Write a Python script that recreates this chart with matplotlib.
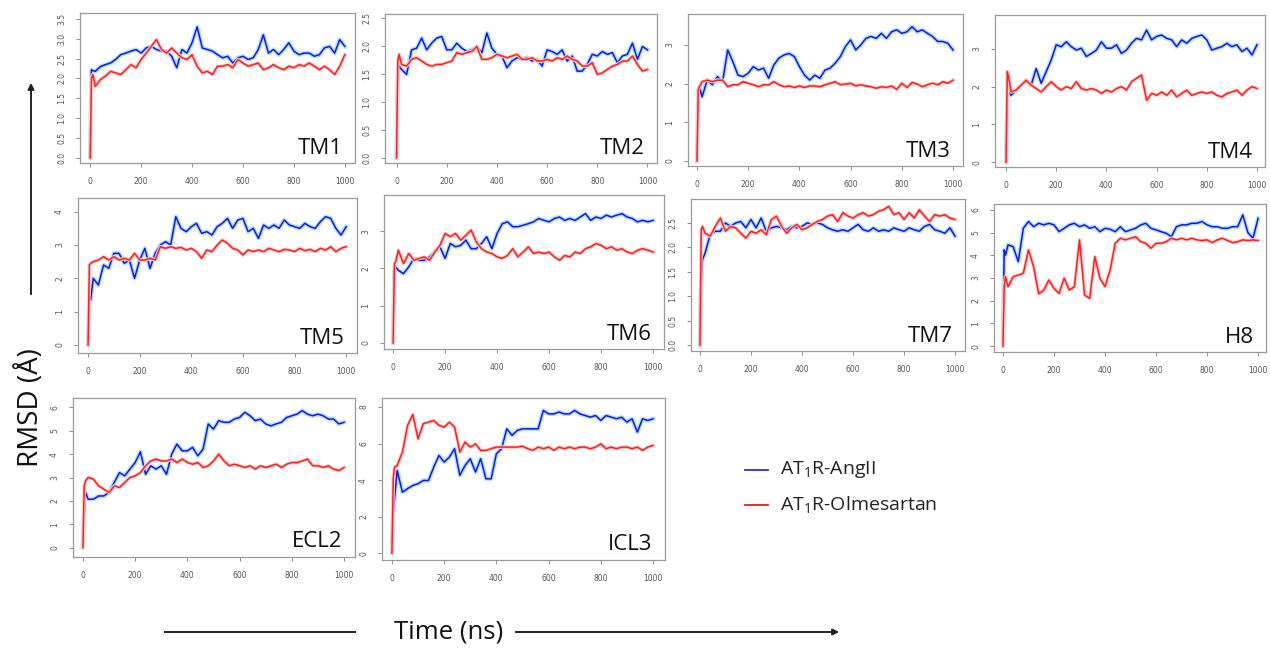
import matplotlib
matplotlib.use('Agg')
import matplotlib.pyplot as plt

# ---------------- data (RMSD in Angstrom, time in ns) ----------------
TIME = [0, 5, 10] + list(range(20, 1001, 20))

TM1_ANGII = [0, 2.22, 2.2,
             2.18, 2.3, 2.35, 2.39, 2.48, 2.6, 2.64, 2.69, 2.73, 2.64,
             2.77, 2.81, 2.73, 2.69, 2.69, 2.56, 2.27, 2.73, 2.64, 2.9,
             3.3, 2.77, 2.73, 2.69, 2.6, 2.52, 2.56, 2.39, 2.52, 2.56,
             2.48, 2.52, 2.73, 3.1, 2.64, 2.73, 2.6, 2.73, 2.9, 2.69,
             2.6, 2.64, 2.64, 2.56, 2.6, 2.77, 2.81, 2.64, 2.98, 2.81]
TM1_OLM = [0, 2.0, 2.1,
           1.8, 1.97, 2.06, 2.18, 2.14, 2.1, 2.22, 2.35, 2.27, 2.48,
           2.64, 2.81, 2.98, 2.73, 2.64, 2.77, 2.64, 2.52, 2.48, 2.6,
           2.31, 2.14, 2.18, 2.1, 2.31, 2.31, 2.35, 2.27, 2.48, 2.39,
           2.31, 2.35, 2.39, 2.22, 2.27, 2.35, 2.27, 2.22, 2.31, 2.27,
           2.35, 2.31, 2.39, 2.31, 2.22, 2.31, 2.22, 2.1, 2.31, 2.6]

TM2_ANGII = [0, 1.52, 1.64,
             1.58, 1.49, 1.93, 1.96, 2.14, 1.93, 2.05, 2.14, 2.17, 1.93,
             1.93, 2.05, 1.96, 1.9, 1.93, 1.99, 1.88, 2.23, 1.96, 1.85,
             1.82, 1.61, 1.73, 1.79, 1.76, 1.79, 1.73, 1.76, 1.64, 1.93,
             1.9, 1.85, 1.93, 1.73, 1.82, 1.55, 1.55, 1.67, 1.85, 1.82,
             1.9, 1.85, 1.88, 1.7, 1.82, 1.85, 2.05, 1.76, 1.99, 1.93]
TM2_OLM = [0, 1.73, 1.85,
           1.67, 1.64, 1.76, 1.79, 1.73, 1.67, 1.64, 1.67, 1.67, 1.7,
           1.73, 1.88, 1.85, 1.88, 1.9, 1.99, 1.76, 1.76, 1.79, 1.85,
           1.82, 1.79, 1.82, 1.85, 1.76, 1.76, 1.79, 1.73, 1.73, 1.76,
           1.73, 1.79, 1.76, 1.82, 1.76, 1.73, 1.64, 1.64, 1.7, 1.49,
           1.52, 1.58, 1.64, 1.67, 1.73, 1.73, 1.82, 1.67, 1.55, 1.58]

TM3_ANGII = [0, 1.84, 1.92,
             1.66, 2.09, 1.97, 2.18, 2.05, 2.87, 2.57, 2.22, 2.18, 2.27,
             2.44, 2.35, 2.4, 2.14, 2.48, 2.66, 2.74, 2.78, 2.7, 2.44,
             2.22, 2.09, 2.22, 2.14, 2.35, 2.4, 2.53, 2.7, 2.96, 3.13,
             2.87, 3.0, 3.17, 3.22, 3.17, 3.3, 3.17, 3.34, 3.39, 3.3,
             3.34, 3.47, 3.34, 3.39, 3.3, 3.22, 3.09, 3.09, 3.04, 2.87]
TM3_OLM = [0, 1.84, 1.92,
           2.05, 2.09, 2.05, 2.09, 2.09, 1.92, 1.97, 1.97, 2.05, 2.01,
           1.97, 1.92, 1.97, 1.97, 2.05, 1.97, 1.92, 1.94, 1.9, 1.94,
           1.9, 1.94, 1.94, 1.92, 1.97, 2.01, 2.05, 1.97, 1.99, 2.01,
           1.94, 1.97, 1.94, 1.92, 1.88, 1.92, 1.9, 1.94, 1.85, 2.01,
           1.9, 2.03, 1.99, 1.92, 1.97, 2.01, 1.97, 2.05, 2.01, 2.09]

TM4_ANGII = [0, 1.91, 1.95,
             1.77, 1.91, 2.04, 2.17, 2.04, 2.48, 2.09, 2.4, 2.71, 3.11,
             3.06, 3.19, 3.06, 2.97, 3.02, 2.8, 2.88, 2.97, 3.19, 3.02,
             3.02, 3.11, 2.88, 2.97, 3.15, 3.28, 3.24, 3.5, 3.24, 3.33,
             3.37, 3.28, 3.24, 3.06, 3.24, 3.15, 3.28, 3.33, 3.37, 3.24,
             2.97, 3.02, 3.06, 3.15, 3.06, 3.11, 2.93, 3.02, 2.84, 3.11]
TM4_OLM = [0, 2.4, 2.26,
           1.86, 1.91, 2.04, 2.17, 2.04, 1.95, 1.86, 2.0, 2.13, 2.0,
           1.91, 2.0, 1.95, 2.13, 1.95, 1.91, 1.95, 1.91, 1.82, 1.91,
           1.86, 1.95, 2.0, 1.91, 2.13, 2.22, 2.31, 1.64, 1.82, 1.77,
           1.86, 1.77, 1.91, 1.73, 1.82, 1.91, 1.77, 1.82, 1.86, 1.82,
           1.86, 1.77, 1.73, 1.82, 1.86, 1.91, 1.77, 1.91, 2.0, 1.95]

TM5_ANGII = [0, 1.45, 1.35,
             2.0, 1.8, 2.4, 2.3, 2.75, 2.75, 2.45, 2.55, 2.0, 2.55,
             2.9, 2.3, 2.75, 3.0, 3.1, 3.0, 3.85, 3.5, 3.4, 3.55,
             3.65, 3.35, 3.4, 3.3, 3.55, 3.65, 3.8, 3.5, 3.75, 3.8,
             3.4, 3.5, 3.2, 3.6, 3.5, 3.6, 3.5, 3.75, 3.6, 3.55,
             3.5, 3.65, 3.55, 3.5, 3.7, 3.85, 3.8, 3.5, 3.3, 3.55]
TM5_OLM = [0, 2.4, 2.45,
           2.5, 2.55, 2.65, 2.55, 2.65, 2.55, 2.6, 2.55, 2.75, 2.55,
           2.55, 2.6, 2.55, 2.95, 2.9, 2.95, 2.9, 2.93, 2.85, 2.9,
           2.8, 2.6, 2.85, 2.8, 3.0, 3.15, 3.05, 2.9, 2.85, 2.7,
           2.85, 2.8, 2.85, 2.8, 2.9, 2.85, 2.8, 2.87, 2.85, 2.8,
           2.9, 2.83, 2.87, 2.8, 2.9, 2.85, 2.95, 2.8, 2.9, 2.95]

TM6_ANGII = [0, 1.95, 2.04,
             1.95, 1.86, 2.04, 2.27, 2.22, 2.22, 2.31, 2.44, 2.58, 2.27,
             2.67, 2.58, 2.62, 2.76, 2.53, 2.53, 2.67, 2.85, 2.53, 2.94,
             3.2, 3.25, 3.12, 3.12, 3.16, 3.2, 3.25, 3.34, 3.29, 3.25,
             3.34, 3.38, 3.29, 3.34, 3.29, 3.38, 3.47, 3.29, 3.38, 3.34,
             3.43, 3.38, 3.43, 3.47, 3.38, 3.34, 3.25, 3.29, 3.25, 3.29]
TM6_OLM = [0, 2.13, 2.18,
           2.49, 2.13, 2.4, 2.22, 2.27, 2.31, 2.22, 2.44, 2.62, 2.94,
           2.85, 2.94, 2.76, 2.89, 3.03, 2.71, 2.53, 2.44, 2.4, 2.31,
           2.27, 2.35, 2.53, 2.31, 2.44, 2.58, 2.4, 2.44, 2.4, 2.44,
           2.31, 2.22, 2.35, 2.31, 2.44, 2.4, 2.53, 2.58, 2.67, 2.62,
           2.53, 2.58, 2.49, 2.53, 2.44, 2.4, 2.49, 2.53, 2.49, 2.44]

TM7_ANGII = [0, 1.27, 1.75,
             1.88, 2.26, 2.33, 2.33, 2.5, 2.43, 2.5, 2.53, 2.4, 2.57,
             2.4, 2.6, 2.33, 2.4, 2.43, 2.4, 2.36, 2.43, 2.4, 2.43,
             2.5, 2.47, 2.5, 2.47, 2.4, 2.36, 2.33, 2.36, 2.33, 2.4,
             2.47, 2.36, 2.33, 2.4, 2.33, 2.36, 2.33, 2.4, 2.36, 2.33,
             2.4, 2.36, 2.33, 2.43, 2.47, 2.36, 2.33, 2.29, 2.4, 2.23]
TM7_OLM = [0, 2.36, 2.43,
           2.29, 2.23, 2.43, 2.6, 2.33, 2.43, 2.4, 2.29, 2.19, 2.33,
           2.29, 2.36, 2.26, 2.57, 2.64, 2.43, 2.29, 2.4, 2.47, 2.36,
           2.4, 2.47, 2.53, 2.57, 2.64, 2.67, 2.53, 2.71, 2.64, 2.6,
           2.67, 2.71, 2.64, 2.67, 2.74, 2.77, 2.84, 2.67, 2.71, 2.57,
           2.71, 2.6, 2.77, 2.64, 2.53, 2.67, 2.64, 2.67, 2.6, 2.57]

H8_ANGII = [0, 4.24, 4.01,
            4.46, 4.38, 3.72, 5.19, 5.49, 5.26, 5.41, 5.34, 5.41, 5.34,
            5.04, 5.19, 5.34, 5.41, 5.26, 5.34, 5.19, 5.26, 5.04, 5.19,
            5.15, 5.04, 5.26, 5.04, 5.12, 5.19, 5.34, 5.41, 5.19, 5.12,
            5.04, 4.97, 4.82, 5.26, 5.34, 5.34, 5.41, 5.41, 5.49, 5.34,
            5.26, 5.26, 5.19, 5.19, 5.26, 5.26, 5.78, 5.0, 4.75, 5.63]
H8_OLM = [0, 2.62, 3.06,
          2.62, 3.06, 3.13, 3.21, 4.24, 3.5, 2.3, 2.47, 2.91, 2.54,
          2.32, 2.99, 2.47, 2.62, 4.68, 2.25, 2.1, 3.94, 2.99, 2.62,
          3.35, 4.53, 4.75, 4.68, 4.75, 4.82, 4.6, 4.53, 4.31, 4.53,
          4.53, 4.6, 4.75, 4.68, 4.75, 4.68, 4.75, 4.68, 4.65, 4.68,
          4.56, 4.68, 4.75, 4.65, 4.56, 4.6, 4.68, 4.65, 4.68, 4.65]

ECL2_ANGII = [0, 2.0, 2.36,
              2.07, 2.07, 2.21, 2.21, 2.36, 2.79, 3.21, 3.07, 3.36, 3.64,
              4.1, 3.14, 3.5, 3.36, 3.5, 3.14, 4.0, 4.43, 4.14, 4.14,
              4.29, 3.93, 4.21, 5.29, 5.07, 5.43, 5.36, 5.36, 5.5, 5.57,
              5.79, 5.64, 5.43, 5.5, 5.29, 5.21, 5.29, 5.36, 5.57, 5.64,
              5.71, 5.86, 5.71, 5.64, 5.71, 5.64, 5.5, 5.5, 5.29, 5.36]
ECL2_OLM = [0, 2.64, 2.86,
            3.0, 2.93, 2.64, 2.5, 2.36, 2.64, 2.57, 2.79, 3.0, 3.07,
            3.21, 3.5, 3.71, 3.79, 3.71, 3.71, 3.79, 3.64, 3.79, 3.64,
            3.57, 3.64, 3.43, 3.5, 3.71, 4.0, 3.71, 3.5, 3.57, 3.5,
            3.43, 3.5, 3.36, 3.5, 3.43, 3.5, 3.57, 3.43, 3.57, 3.64,
            3.64, 3.71, 3.79, 3.5, 3.5, 3.43, 3.5, 3.36, 3.29, 3.43]

ICL3_ANGII = [0, 2.25, 2.98,
              4.53, 3.34, 3.53, 3.71, 3.8, 3.98, 3.98, 4.71, 5.35, 4.99,
              5.26, 5.72, 4.26, 4.8, 5.17, 4.44, 5.17, 4.07, 4.07, 5.44,
              5.72, 6.81, 6.45, 6.72, 6.81, 6.81, 6.81, 6.81, 7.82, 7.63,
              7.63, 7.73, 7.63, 7.63, 7.82, 7.63, 7.54, 7.45, 7.54, 7.27,
              7.54, 7.45, 7.36, 7.45, 7.18, 7.36, 6.63, 7.36, 7.27, 7.36]
ICL3_OLM = [0, 4.07, 4.71,
            4.8, 5.53, 7.0, 7.6, 6.26, 7.09, 7.18, 7.27, 7.0, 6.9,
            7.18, 6.9, 5.53, 6.08, 5.81, 5.99, 5.63, 5.63, 5.72, 5.81,
            5.81, 5.81, 5.81, 5.81, 5.86, 5.72, 5.63, 5.81, 5.72, 5.81,
            5.63, 5.81, 5.72, 5.81, 5.72, 5.81, 5.81, 5.72, 5.81, 5.99,
            5.72, 5.81, 5.72, 5.81, 5.81, 5.72, 5.81, 5.63, 5.81, 5.9]

PANEL_NAMES = ['TM1', 'TM2', 'TM3', 'TM4', 'TM5', 'TM6', 'TM7', 'H8', 'ECL2', 'ICL3']
SERIES_ANGII = [TM1_ANGII, TM2_ANGII, TM3_ANGII, TM4_ANGII, TM5_ANGII,
                TM6_ANGII, TM7_ANGII, H8_ANGII, ECL2_ANGII, ICL3_ANGII]
SERIES_OLM = [TM1_OLM, TM2_OLM, TM3_OLM, TM4_OLM, TM5_OLM,
              TM6_OLM, TM7_OLM, H8_OLM, ECL2_OLM, ICL3_OLM]
X_TICKS = [0, 200, 400, 600, 800, 1000]
Y_TICKS = [[0.0, 0.5, 1.0, 1.5, 2.0, 2.5, 3.0, 3.5],
           [0.0, 0.5, 1.0, 1.5, 2.0, 2.5],
           [0, 1, 2, 3],
           [0, 1, 2, 3],
           [0, 1, 2, 3, 4],
           [0, 1, 2, 3],
           [0.0, 0.5, 1.0, 1.5, 2.0, 2.5],
           [0, 1, 2, 3, 4, 5, 6],
           [0, 1, 2, 3, 4, 5, 6],
           [0, 2, 4, 6, 8]]
Y_FMT = ['{:.1f}', '{:.1f}', '{:.0f}', '{:.0f}', '{:.0f}', '{:.0f}', '{:.1f}',
         '{:.0f}', '{:.0f}', '{:.0f}']
LEGEND_LABELS = [r'AT$_{\mathregular{1}}$R-AngII', r'AT$_{\mathregular{1}}$R-Olmesartan']

# ---------------- layout (pixel boxes: left, top, right, bottom) ----------------
W, H = 1270, 649
BOXES = [(80, 13, 355, 163), (385, 14, 657, 163), (688, 14, 963, 166), (995, 15, 1265, 167),
         (78, 198, 357, 353), (384, 195, 664, 349), (691, 199, 965, 351), (994, 204, 1266, 352),
         (73, 398, 355, 557), (382, 398, 665, 560)]
XLIMS = [(-40, 1040), (-46, 1038), (-35, 1039), (-44, 1032), (-39, 1042),
         (-35, 1042), (-35, 1039), (-35, 1031), (-38, 1042), (-38, 1046)]
YLIMS = [(-0.13, 3.65), (-0.09, 2.57), (-0.13, 3.8), (-0.13, 3.9), (-0.24, 4.41),
         (-0.16, 3.97), (-0.12, 2.99), (-0.26, 6.26), (-0.4, 6.4), (-0.38, 8.5)]

BLUE = '#1414e6'
BLUE_BAND = '#b5e3ff'
RED = '#ff1e1e'
RED_BAND = '#ffcccc'
GREY = '#7a7a7a'
LABEL_FONT = ['Open Sans', 'DejaVu Sans']

fig = plt.figure(figsize=(W / 100, H / 100), dpi=100)
fig.patch.set_facecolor('white')


def fx(px):
    return px / W


def fy(py):
    return 1 - py / H


for i, name in enumerate(PANEL_NAMES):
    l, t, r, b = BOXES[i]
    ax = fig.add_axes([fx(l), fy(b), (r - l) / W, (b - t) / H])
    ax.plot(TIME, SERIES_ANGII[i], color=BLUE_BAND, lw=3.2, solid_joinstyle='round')
    ax.plot(TIME, SERIES_ANGII[i], color=BLUE, lw=1.1)
    ax.plot(TIME, SERIES_OLM[i], color=RED_BAND, lw=2.6, solid_joinstyle='round')
    ax.plot(TIME, SERIES_OLM[i], color=RED, lw=1.1)
    ax.set_xlim(*XLIMS[i])
    ax.set_ylim(*YLIMS[i])
    ax.set_xticks(X_TICKS)
    ax.set_xticklabels([str(v) for v in X_TICKS])
    ax.set_yticks(Y_TICKS[i])
    ax.set_yticklabels([Y_FMT[i].format(v) for v in Y_TICKS[i]], rotation=90, va='center')
    ax.tick_params(direction='out', length=3, width=0.6, color=GREY,
                   labelcolor='#555555', labelsize=5.5, pad=7)
    for sp in ax.spines.values():
        sp.set_color('#9a9a9a')
        sp.set_linewidth(0.9)
    ax.text(0.955, 0.06, name, transform=ax.transAxes, ha='right', va='baseline',
            fontsize=16, family=LABEL_FONT, color='#111111')

# legend
fig.add_artist(plt.Line2D([fx(745), fx(768)], [fy(470), fy(470)], color='#3030c0', lw=1.3))
fig.add_artist(plt.Line2D([fx(745), fx(768)], [fy(505), fy(505)], color='#e02020', lw=1.3))
fig.text(fx(780), fy(470), LEGEND_LABELS[0], ha='left', va='center', fontsize=14,
         family=LABEL_FONT, color='#222222')
fig.text(fx(780), fy(505), LEGEND_LABELS[1], ha='left', va='center', fontsize=14,
         family=LABEL_FONT, color='#222222')

# axis titles with arrows
fig.text(fx(31), fy(408), 'RMSD (Å)', rotation=90, ha='center', va='center',
         fontsize=20, family=LABEL_FONT, color='#111111')
fig.add_artist(matplotlib.patches.FancyArrowPatch(
    (fx(31), fy(297)), (fx(31), fy(80)), transform=fig.transFigure,
    arrowstyle='-|>', mutation_scale=9, lw=1.4, color='#222222'))
fig.text(fx(449), fy(632), 'Time (ns)', ha='center', va='center',
         fontsize=18.5, family=LABEL_FONT, color='#111111')
fig.add_artist(plt.Line2D([fx(165), fx(355)], [fy(632), fy(632)], color='#222222', lw=1.4))
fig.add_artist(matplotlib.patches.FancyArrowPatch(
    (fx(513), fy(632)), (fx(842), fy(632)), transform=fig.transFigure,
    arrowstyle='-|>', mutation_scale=9, lw=1.4, color='#222222'))

fig.savefig('out.png', dpi=100, facecolor='white')
